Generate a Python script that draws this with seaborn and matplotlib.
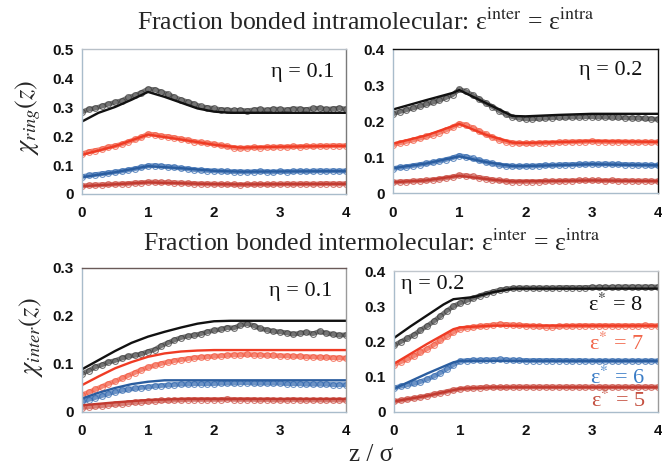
import numpy as np
import pandas as pd
import matplotlib
matplotlib.use("Agg")
import matplotlib.pyplot as plt
import seaborn as sns

sns.set_style("white")
plt.rcParams["font.family"] = ["Liberation Sans", "DejaVu Sans"]
plt.rcParams["mathtext.fontset"] = "stix"

# ---------------------------------------------------------------- data
# z / sigma grid for simulation profiles
z_sim = [round(0.1 * i, 1) for i in range(41)]

eps_levels = [8, 7, 6, 5]

# --- intramolecular (ring) fraction, eta = 0.1
ring01_sim_8 = [0.283, 0.292, 0.296, 0.303, 0.310, 0.316, 0.322, 0.333, 0.340, 0.350, 0.362,
                0.360, 0.352, 0.344, 0.334, 0.325, 0.318, 0.310, 0.302, 0.298, 0.295,
                0.291, 0.290, 0.288, 0.289, 0.287, 0.290, 0.292, 0.289, 0.293, 0.292,
                0.290, 0.294, 0.293, 0.291, 0.295, 0.296, 0.292, 0.294, 0.296, 0.293]
ring01_sim_7 = [0.138, 0.146, 0.150, 0.155, 0.162, 0.166, 0.172, 0.180, 0.188, 0.196, 0.207,
                0.205, 0.200, 0.198, 0.194, 0.190, 0.186, 0.181, 0.178, 0.175, 0.172,
                0.168, 0.164, 0.160, 0.158, 0.159, 0.161, 0.160, 0.162, 0.161, 0.163,
                0.162, 0.164, 0.163, 0.165, 0.164, 0.166, 0.165, 0.167, 0.166, 0.167]
ring01_sim_6 = [0.060, 0.064, 0.067, 0.070, 0.073, 0.076, 0.079, 0.083, 0.087, 0.092, 0.097,
                0.098, 0.096, 0.094, 0.092, 0.089, 0.087, 0.084, 0.082, 0.081, 0.080,
                0.079, 0.078, 0.077, 0.077, 0.076, 0.077, 0.078, 0.077, 0.076, 0.078,
                0.077, 0.078, 0.079, 0.078, 0.079, 0.080, 0.079, 0.080, 0.079, 0.080]
ring01_sim_5 = [0.028, 0.030, 0.031, 0.032, 0.033, 0.034, 0.035, 0.036, 0.038, 0.039, 0.041,
                0.041, 0.040, 0.040, 0.039, 0.038, 0.037, 0.036, 0.035, 0.035, 0.034,
                0.034, 0.033, 0.033, 0.032, 0.033, 0.033, 0.034, 0.033, 0.034, 0.034,
                0.035, 0.034, 0.035, 0.035, 0.034, 0.035, 0.036, 0.035, 0.035, 0.036]
ring01_th_z = [[0, 0.25, 0.5, 0.75, 1.0, 1.25, 1.5, 1.75, 2.0, 2.25, 4.0],
               [0, 0.5, 1.0, 1.5, 2.0, 2.4, 3.0, 4.0],
               [0, 0.5, 1.0, 1.5, 2.0, 2.4, 4.0],
               [0, 1.0, 2.0, 2.4, 4.0]]
ring01_th = [[0.250, 0.280, 0.300, 0.325, 0.352, 0.335, 0.315, 0.295, 0.284, 0.280, 0.280],
             [0.135, 0.165, 0.205, 0.188, 0.170, 0.160, 0.163, 0.166],
             [0.058, 0.075, 0.096, 0.089, 0.080, 0.077, 0.079],
             [0.027, 0.040, 0.034, 0.033, 0.035]]

# --- intramolecular (ring) fraction, eta = 0.2
ring02_sim_8 = [0.220, 0.226, 0.231, 0.236, 0.241, 0.247, 0.252, 0.258, 0.265, 0.273, 0.288,
                0.282, 0.272, 0.261, 0.250, 0.240, 0.229, 0.219, 0.212, 0.208, 0.206,
                0.206, 0.207, 0.208, 0.209, 0.210, 0.210, 0.211, 0.211, 0.212, 0.212,
                0.211, 0.211, 0.210, 0.210, 0.209, 0.208, 0.208, 0.207, 0.206, 0.205]
ring02_sim_7 = [0.134, 0.139, 0.143, 0.147, 0.152, 0.157, 0.162, 0.168, 0.175, 0.183, 0.193,
                0.189, 0.181, 0.172, 0.163, 0.155, 0.148, 0.143, 0.140, 0.138, 0.138,
                0.138, 0.139, 0.140, 0.140, 0.141, 0.142, 0.142, 0.143, 0.143, 0.144,
                0.143, 0.143, 0.142, 0.143, 0.142, 0.142, 0.141, 0.142, 0.141, 0.142]
ring02_sim_6 = [0.068, 0.071, 0.073, 0.076, 0.079, 0.082, 0.085, 0.089, 0.093, 0.098, 0.104,
                0.101, 0.096, 0.091, 0.086, 0.082, 0.078, 0.076, 0.075, 0.074, 0.075,
                0.075, 0.076, 0.077, 0.077, 0.078, 0.079, 0.079, 0.080, 0.080, 0.081,
                0.080, 0.081, 0.080, 0.080, 0.079, 0.079, 0.078, 0.078, 0.077, 0.077]
ring02_sim_5 = [0.030, 0.031, 0.032, 0.033, 0.034, 0.035, 0.037, 0.039, 0.042, 0.045, 0.049,
                0.048, 0.046, 0.043, 0.040, 0.037, 0.035, 0.033, 0.032, 0.032, 0.032,
                0.032, 0.032, 0.033, 0.033, 0.033, 0.034, 0.034, 0.035, 0.035, 0.035,
                0.035, 0.034, 0.035, 0.034, 0.034, 0.034, 0.033, 0.034, 0.033, 0.033]
ring02_th_z = [[0, 0.5, 0.9, 1.0, 1.4, 1.8, 2.0, 2.5, 3.0, 4.0],
               [0, 0.5, 1.0, 1.4, 1.8, 2.0, 3.0, 4.0],
               [0, 0.5, 1.0, 1.4, 1.8, 2.0, 3.0, 4.0],
               [0, 0.5, 1.0, 1.5, 1.8, 3.0, 4.0]]
ring02_th = [[0.232, 0.258, 0.278, 0.286, 0.250, 0.214, 0.213, 0.217, 0.220, 0.220],
             [0.137, 0.160, 0.192, 0.162, 0.140, 0.139, 0.144, 0.142],
             [0.069, 0.082, 0.102, 0.086, 0.075, 0.075, 0.080, 0.077],
             [0.030, 0.035, 0.048, 0.037, 0.032, 0.035, 0.033]]

# --- intermolecular fraction, eta = 0.1
inter01_sim_8 = [0.080, 0.086, 0.094, 0.098, 0.104, 0.107, 0.112, 0.116, 0.118, 0.121, 0.126,
                 0.130, 0.138, 0.144, 0.150, 0.155, 0.158, 0.160, 0.163, 0.167, 0.170,
                 0.172, 0.176, 0.175, 0.181, 0.184, 0.180, 0.174, 0.171, 0.168, 0.167,
                 0.165, 0.162, 0.164, 0.166, 0.163, 0.168, 0.164, 0.162, 0.160, 0.161]
inter01_sim_7 = [0.036, 0.041, 0.047, 0.053, 0.059, 0.064, 0.070, 0.076, 0.082, 0.088, 0.093,
                 0.097, 0.101, 0.104, 0.107, 0.109, 0.111, 0.113, 0.114, 0.115, 0.116,
                 0.117, 0.118, 0.119, 0.119, 0.120, 0.119, 0.119, 0.118, 0.118, 0.117,
                 0.117, 0.116, 0.116, 0.115, 0.115, 0.114, 0.114, 0.113, 0.113, 0.112]
inter01_sim_6 = [0.022, 0.026, 0.030, 0.034, 0.038, 0.042, 0.045, 0.047, 0.049, 0.051, 0.052,
                 0.054, 0.055, 0.056, 0.057, 0.058, 0.058, 0.059, 0.059, 0.059, 0.059,
                 0.060, 0.060, 0.060, 0.061, 0.061, 0.060, 0.060, 0.060, 0.060, 0.060,
                 0.059, 0.059, 0.059, 0.058, 0.058, 0.058, 0.058, 0.057, 0.057, 0.057]
inter01_sim_5 = [0.009, 0.011, 0.012, 0.013, 0.015, 0.016, 0.017, 0.019, 0.020, 0.021, 0.022,
                 0.023, 0.024, 0.024, 0.025, 0.025, 0.026, 0.026, 0.026, 0.026, 0.026,
                 0.026, 0.027, 0.026, 0.026, 0.026, 0.026, 0.025, 0.026, 0.025, 0.025,
                 0.025, 0.026, 0.025, 0.025, 0.025, 0.025, 0.025, 0.025, 0.025, 0.025]
inter01_th_z = [[0, 0.25, 0.5, 0.75, 1.0, 1.25, 1.5, 1.75, 2.0, 2.25, 4.0],
                [0, 0.25, 0.5, 0.75, 1.0, 1.25, 1.5, 1.75, 2.0, 4.0],
                [0, 0.25, 0.5, 0.75, 1.0, 1.25, 1.5, 4.0],
                [0, 0.5, 1.0, 1.5, 4.0]]
inter01_th = [[0.089, 0.108, 0.127, 0.144, 0.157, 0.167, 0.176, 0.184, 0.189, 0.190, 0.190],
              [0.056, 0.074, 0.091, 0.104, 0.115, 0.122, 0.126, 0.128, 0.129, 0.129],
              [0.028, 0.040, 0.050, 0.058, 0.063, 0.066, 0.066, 0.066],
              [0.014, 0.020, 0.025, 0.027, 0.027]]

# --- intermolecular fraction, eta = 0.2
inter02_sim_8 = [0.189, 0.199, 0.209, 0.219, 0.232, 0.244, 0.257, 0.272, 0.287, 0.300, 0.309,
                 0.316, 0.323, 0.330, 0.336, 0.341, 0.346, 0.349, 0.351, 0.352, 0.352,
                 0.352, 0.352, 0.352, 0.352, 0.353, 0.353, 0.353, 0.353, 0.353, 0.354,
                 0.354, 0.354, 0.354, 0.355, 0.355, 0.355, 0.355, 0.355, 0.355, 0.355]
inter02_sim_7 = [0.134, 0.142, 0.150, 0.159, 0.169, 0.179, 0.190, 0.203, 0.215, 0.227, 0.236,
                 0.239, 0.241, 0.243, 0.245, 0.247, 0.249, 0.248, 0.247, 0.246, 0.245,
                 0.244, 0.243, 0.242, 0.242, 0.243, 0.244, 0.244, 0.245, 0.245, 0.245,
                 0.245, 0.245, 0.245, 0.245, 0.245, 0.245, 0.245, 0.246, 0.245, 0.245]
inter02_sim_6 = [0.068, 0.073, 0.077, 0.081, 0.086, 0.093, 0.101, 0.111, 0.122, 0.134, 0.144,
                 0.146, 0.147, 0.147, 0.148, 0.148, 0.149, 0.148, 0.147, 0.147, 0.146,
                 0.146, 0.146, 0.146, 0.146, 0.146, 0.146, 0.145, 0.146, 0.145, 0.145,
                 0.145, 0.145, 0.145, 0.145, 0.145, 0.145, 0.145, 0.145, 0.145, 0.145]
inter02_sim_5 = [0.030, 0.033, 0.036, 0.039, 0.042, 0.046, 0.050, 0.054, 0.058, 0.062, 0.065,
                 0.067, 0.068, 0.069, 0.070, 0.070, 0.070, 0.070, 0.071, 0.071, 0.071,
                 0.071, 0.071, 0.071, 0.071, 0.071, 0.071, 0.071, 0.071, 0.071, 0.071,
                 0.071, 0.071, 0.071, 0.071, 0.071, 0.071, 0.071, 0.071, 0.071, 0.071]
inter02_th_z = [[0, 0.25, 0.5, 0.75, 0.9, 1.0, 1.2, 1.5, 1.8, 4.0],
                [0, 0.5, 0.9, 1.0, 1.5, 4.0],
                [0, 0.5, 0.9, 1.0, 4.0],
                [0, 0.5, 1.0, 1.5, 4.0]]
inter02_th = [[0.210, 0.243, 0.274, 0.305, 0.320, 0.322, 0.326, 0.340, 0.350, 0.350],
              [0.137, 0.193, 0.235, 0.240, 0.245, 0.245],
              [0.066, 0.109, 0.141, 0.145, 0.145],
              [0.030, 0.046, 0.066, 0.070, 0.070]]

# ---------------------------------------------------------------- styling
line_colors = {8: "#111111", 7: "#ef3b24", 6: "#2a5d9f", 5: "#c23a30"}
sim_colors = {8: "#3a3a3a", 7: "#f2553c", 6: "#2f66ad", 5: "#c8473c"}
label_colors = {8: "#111111", 7: "#f2664a", 6: "#3a7cc6", 5: "#c45040"}
axis_blue = "#a9bccb"

panels = [
    dict(rect=[0.1239, 0.5828, 0.3988, 0.3118], ymax=0.5, yticks=[0, 0.1, 0.2, 0.3, 0.4, 0.5],
         sims=[ring01_sim_8, ring01_sim_7, ring01_sim_6, ring01_sim_5],
         thz=ring01_th_z, th=ring01_th, eta="η = 0.1", eta_xy=(3.35, 0.42),
         spines={"top": "#b8c0c8", "right": "#7a7a7a"}),
    dict(rect=[0.5937, 0.5849, 0.4003, 0.3097], ymax=0.4, yticks=[0, 0.1, 0.2, 0.3, 0.4],
         sims=[ring02_sim_8, ring02_sim_7, ring02_sim_6, ring02_sim_5],
         thz=ring02_th_z, th=ring02_th, eta="η = 0.2", eta_xy=(3.29, 0.339),
         spines={"top": "#111111", "right": "#111111"}),
    dict(rect=[0.1239, 0.1140, 0.3988, 0.3097], ymax=0.3, yticks=[0, 0.1, 0.2, 0.3],
         sims=[inter01_sim_8, inter01_sim_7, inter01_sim_6, inter01_sim_5],
         thz=inter01_th_z, th=inter01_th, eta="η = 0.1", eta_xy=(3.32, 0.25),
         spines={"top": "#6a5a58", "right": "#9a9a9a"}),
    dict(rect=[0.5952, 0.1140, 0.3988, 0.3032], ymax=0.4, yticks=[0, 0.1, 0.2, 0.3, 0.4],
         sims=[inter02_sim_8, inter02_sim_7, inter02_sim_6, inter02_sim_5],
         thz=inter02_th_z, th=inter02_th, eta="η = 0.2", eta_xy=(0.58, 0.363),
         spines={"top": "#c0c6cc", "right": "#9a9a9a"}),
]

fig = plt.figure(figsize=(6.62, 4.65), dpi=100)

axes = []
for p in panels:
    ax = fig.add_axes(p["rect"])
    axes.append(ax)
    for eps, sim, tz, ty in zip(eps_levels, p["sims"], p["thz"], p["th"]):
        df_sim = pd.DataFrame({"z": z_sim, "chi": sim})
        sns.lineplot(data=df_sim, x="z", y="chi", ax=ax, color=sim_colors[eps], lw=3.4,
                     alpha=0.7, marker="o", markersize=4.2, markerfacecolor="none",
                     markeredgecolor=sim_colors[eps], markeredgewidth=0.8,
                     estimator=None, sort=False)
        df_th = pd.DataFrame({"z": tz, "chi": ty})
        sns.lineplot(data=df_th, x="z", y="chi", ax=ax, color=line_colors[eps], lw=1.7,
                     estimator=None, sort=False)
    ax.set_xlim(0, 4)
    ax.set_ylim(0, p["ymax"])
    ax.set_xticks([0, 1, 2, 3, 4])
    ax.set_xticklabels(["0", "1", "2", "3", "4"])
    ax.set_yticks(p["yticks"])
    ax.set_yticklabels(["0" if t == 0 else f"{t:.1f}" for t in p["yticks"]])
    ax.set_xlabel("")
    ax.set_ylabel("")
    for lab in ax.get_xticklabels() + ax.get_yticklabels():
        lab.set_fontweight("bold")
        lab.set_fontsize(11)
    ax.tick_params(axis="both", direction="out", length=3, width=0.8, color=axis_blue,
                   pad=3, labelcolor="#111111")
    ax.tick_params(axis="x", pad=6)
    ax.spines["left"].set_color(axis_blue)
    ax.spines["bottom"].set_color(axis_blue)
    for side, col in p["spines"].items():
        ax.spines[side].set_color(col)
    for s in ax.spines.values():
        s.set_linewidth(1.0)
        s.set_visible(True)
    ax.text(*p["eta_xy"], p["eta"], ha="center", va="center", fontsize=16,
            family="Liberation Serif", color="#111111")

# epsilon* labels on the last panel
eps_pos = {8: (3.35, 0.3035), 7: (3.37, 0.193), 6: (3.38, 0.0965), 5: (3.39, 0.031)}
for eps in eps_levels:
    axes[3].text(*eps_pos[eps], rf"ε$^{{*}}$ = {eps}", ha="center", va="center",
                 fontsize=16, family="Liberation Serif", color=label_colors[eps])

# panel-row titles
fig.text(0.553, 1 - 22 / 465,
         r"Fraction bonded intramolecular: ε$^{\mathrm{inter}}$ = ε$^{\mathrm{intra}}$",
         ha="center", va="center", fontsize=18.5, family="Liberation Serif")
fig.text(0.561, 1 - 243 / 465,
         r"Fraction bonded intermolecular: ε$^{\mathrm{inter}}$ = ε$^{\mathrm{intra}}$",
         ha="center", va="center", fontsize=18.5, family="Liberation Serif")

# axis labels
fig.text(28 / 662, 1 - 117 / 465, r"$\chi_{ring}(z)$", rotation=90, ha="center",
         va="center", fontsize=19)
fig.text(31 / 662, 1 - 337 / 465, r"$\chi_{inter}(z)$", rotation=90, ha="center",
         va="center", fontsize=19)
fig.text(371 / 662, 1 - 455 / 465, "z / σ", ha="center", va="center", fontsize=18,
         family="Liberation Serif")

fig.savefig("out.png", dpi=100, facecolor="white")
